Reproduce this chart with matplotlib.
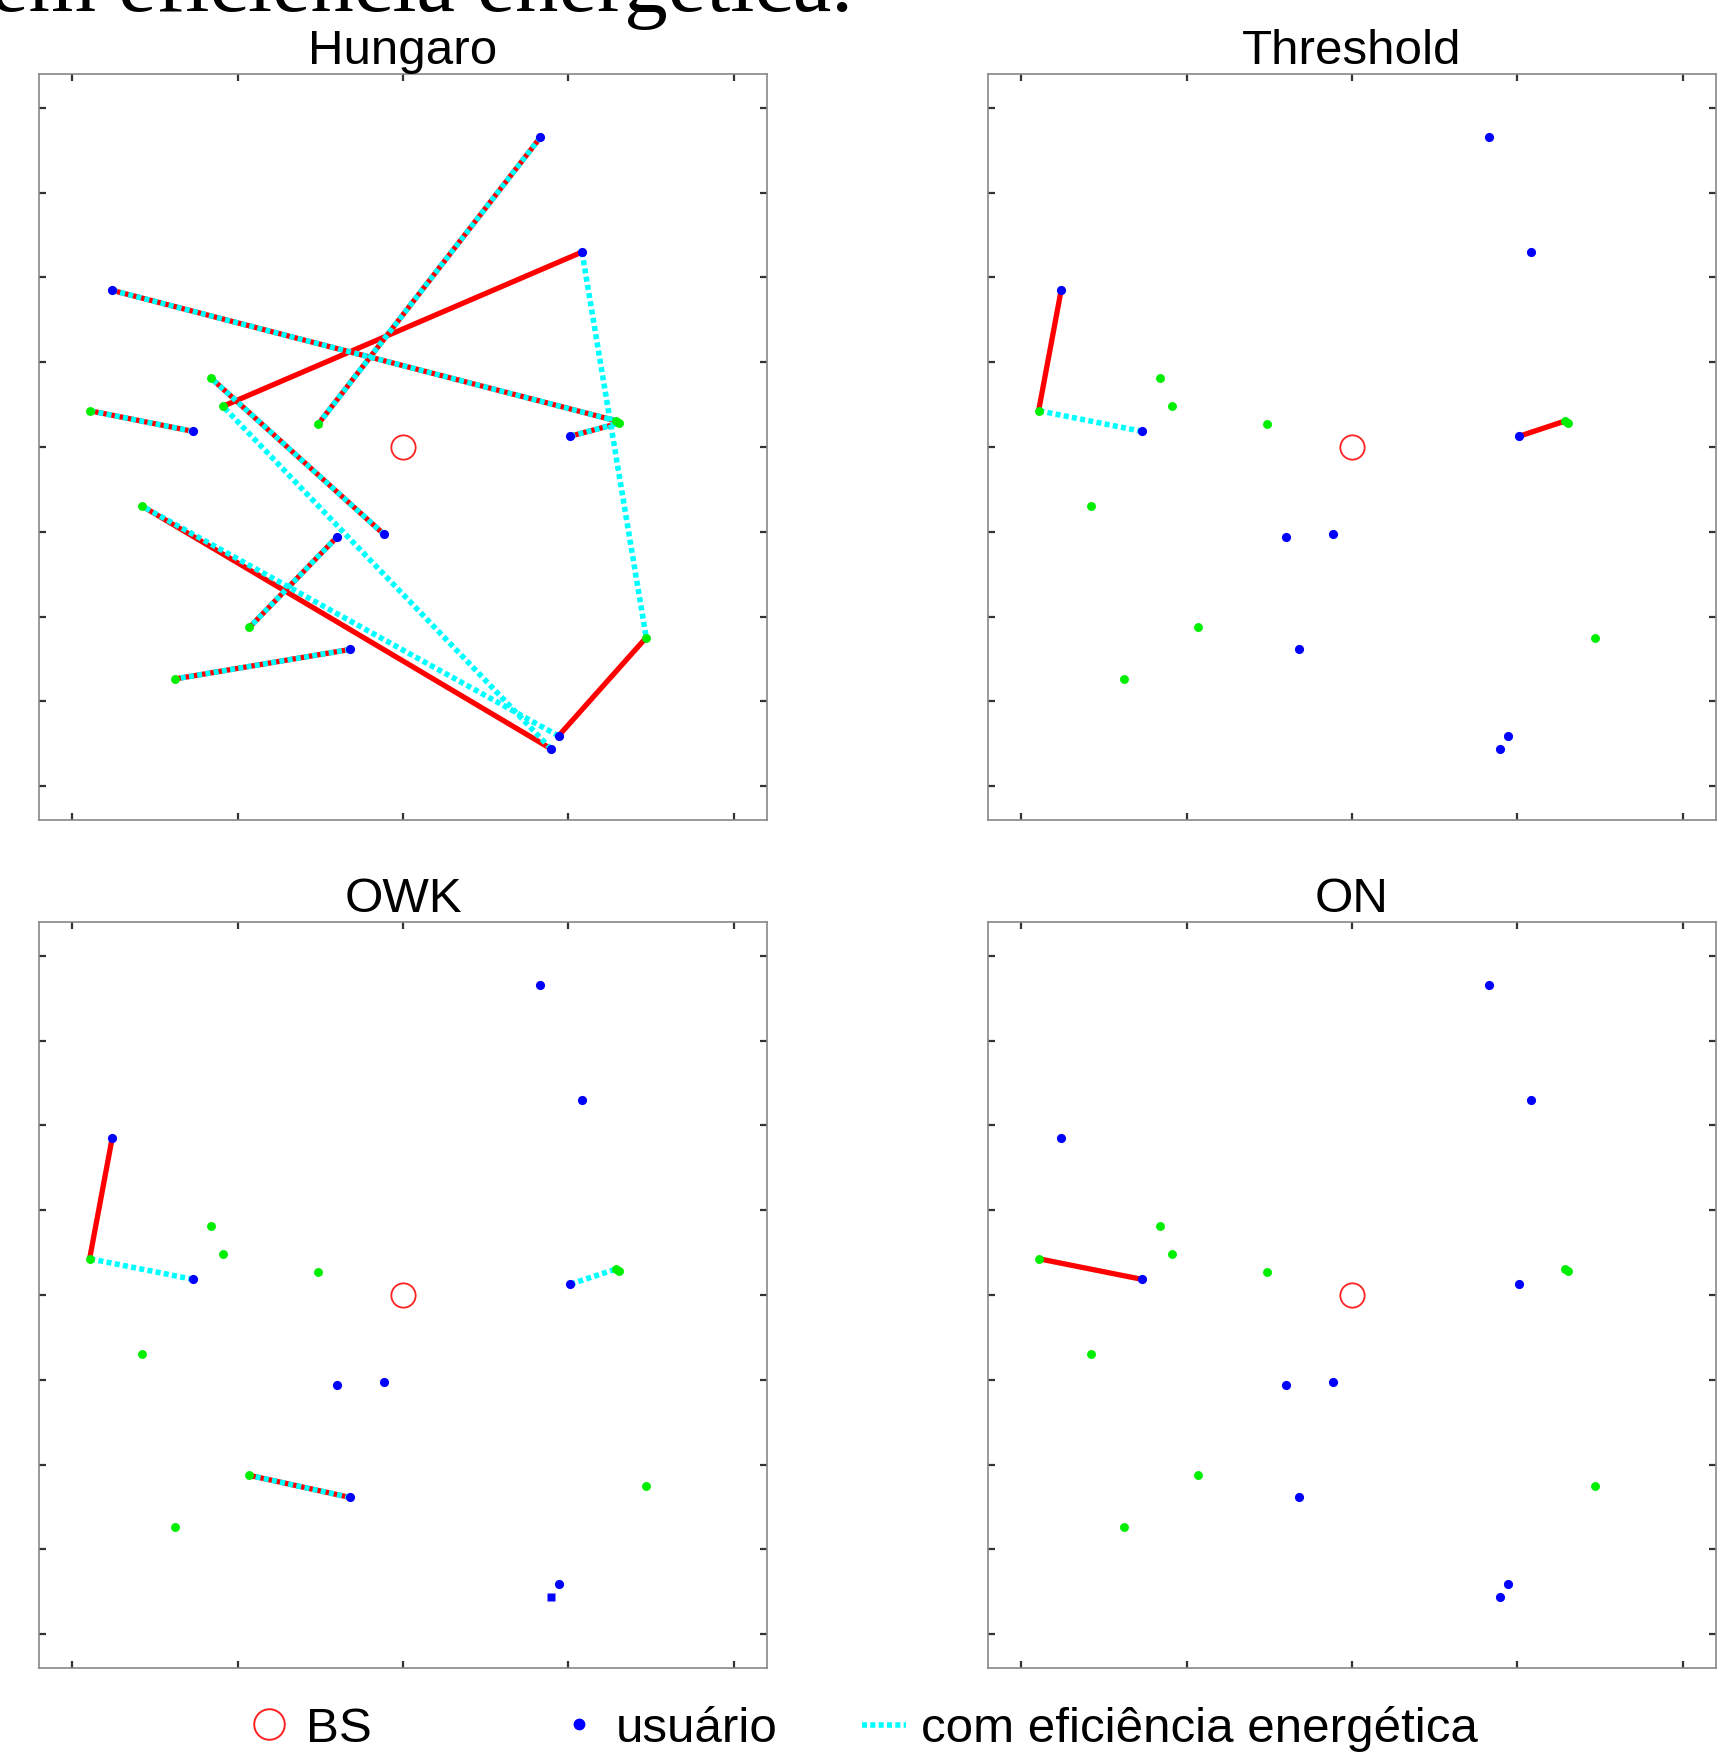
import matplotlib
matplotlib.use("Agg")
import matplotlib.pyplot as plt
from matplotlib.lines import Line2D

plt.rcParams["font.family"] = ["Liberation Sans", "DejaVu Sans"]

# coordinates in metres, BS at the centre of the cell
bs_x = [0]
bs_y = [0]
user_x = [415, 541, -879, -634, 506, -57, -198, -160, 470, 447]
user_y = [913, 575, 462, 46, 32, -258, -264, -597, -852, -890]
d2d_x = [-580, -544, -947, -256, 645, 652, -789, -464, -689, 735]
d2d_y = [203, 120, 107, 68, 77, 70, -174, -532, -684, -562]

titles = ["Hungaro", "Threshold", "OWK", "ON"]

# (user index, d2d index) pairs sharing a channel
red_pairs = [
    [(0, 3), (1, 1), (2, 4), (5, 0), (3, 2), (9, 6), (6, 7), (7, 8), (8, 9), (4, 5)],
    [(2, 2), (4, 4)],
    [(2, 2), (7, 7)],
    [(3, 2)],
]
cyan_pairs = [
    [(0, 3), (1, 9), (2, 4), (5, 0), (3, 2), (9, 1), (8, 6), (6, 7), (7, 8), (4, 5)],
    [(3, 2)],
    [(3, 2), (4, 4), (7, 7)],
    [],
]

dotted = (0, (0.9, 0.6))

fig = plt.figure(figsize=(17.18, 17.61), dpi=100)
W, H = 1718, 1761
boxes = [(39, 74), (988, 74), (39, 922), (988, 922)]
ax_w, ax_h = 728, 746

for i, (left, top) in enumerate(boxes):
    ax = fig.add_axes([left / W, 1 - (top + ax_h) / H, ax_w / W, ax_h / H])

    for u, d in red_pairs[i]:
        ax.plot([user_x[u], d2d_x[d]], [user_y[u], d2d_y[d]],
                color="#ff0000", lw=3.8, solid_capstyle="round", zorder=2)
    for u, d in cyan_pairs[i]:
        ax.plot([user_x[u], d2d_x[d]], [user_y[u], d2d_y[d]],
                color="#00ffff", lw=4.0, linestyle=dotted, zorder=3)

    ax.plot(d2d_x, d2d_y, "o", color="#00ee00", ms=6.4, mec="none", zorder=4)
    if titles[i] == "OWK":
        ax.plot(user_x[:9], user_y[:9], "o", color="#0000ff", ms=6.6, mec="none", zorder=4)
        ax.plot(user_x[9:], user_y[9:], "s", color="#0000ff", ms=5.8, mec="none", zorder=4)
    else:
        ax.plot(user_x, user_y, "o", color="#0000ff", ms=6.6, mec="none", zorder=4)
    ax.plot(bs_x, bs_y, "o", mfc="none", mec="#ff2020", ms=17.5, mew=1.3, zorder=5)

    ax.set_xlim(-1100, 1100)
    ax.set_ylim(-1100, 1100)
    ax.set_xticks([-1000, -500, 0, 500, 1000])
    ax.set_yticks([-1000, -750, -500, -250, 0, 250, 500, 750, 1000])
    ax.set_xticklabels([])
    ax.set_yticklabels([])
    ax.tick_params(direction="in", top=True, right=True, length=5,
                   width=1.6, colors="#333333")
    for sp in ax.spines.values():
        sp.set_color("#888888")
        sp.set_linewidth(1.2)
    ax.set_title(titles[i], fontsize=35.5, pad=5.5)

# heading of the slide, cut at the top edge
fig.text(-0.006, 1 - 11 / H, "em eficiência energética.", fontsize=62.5,
         family=["Liberation Serif", "DejaVu Serif"], va="baseline", ha="left")

key_y = 1 - 1729 / H
keys = [
    (Line2D([], [], ls="none", marker="o", mfc="none", mec="#ff2020", ms=22, mew=1.4), "BS", 247),
    (Line2D([], [], ls="none", marker="o", color="#0000ff", mec="none", ms=8.5), "usuário", 557),
    (Line2D([], [], color="#00ffff", lw=4.0, ls=dotted), "com eficiência energética", 862),
]
for handle, label, x0 in keys:
    fig.legend([handle], [label], loc="center left", bbox_to_anchor=(x0 / W, key_y),
               frameon=False, fontsize=35.5, handlelength=0.9, handletextpad=0.3,
               borderpad=0, borderaxespad=0, numpoints=1)

fig.savefig("out.png", dpi=100)
